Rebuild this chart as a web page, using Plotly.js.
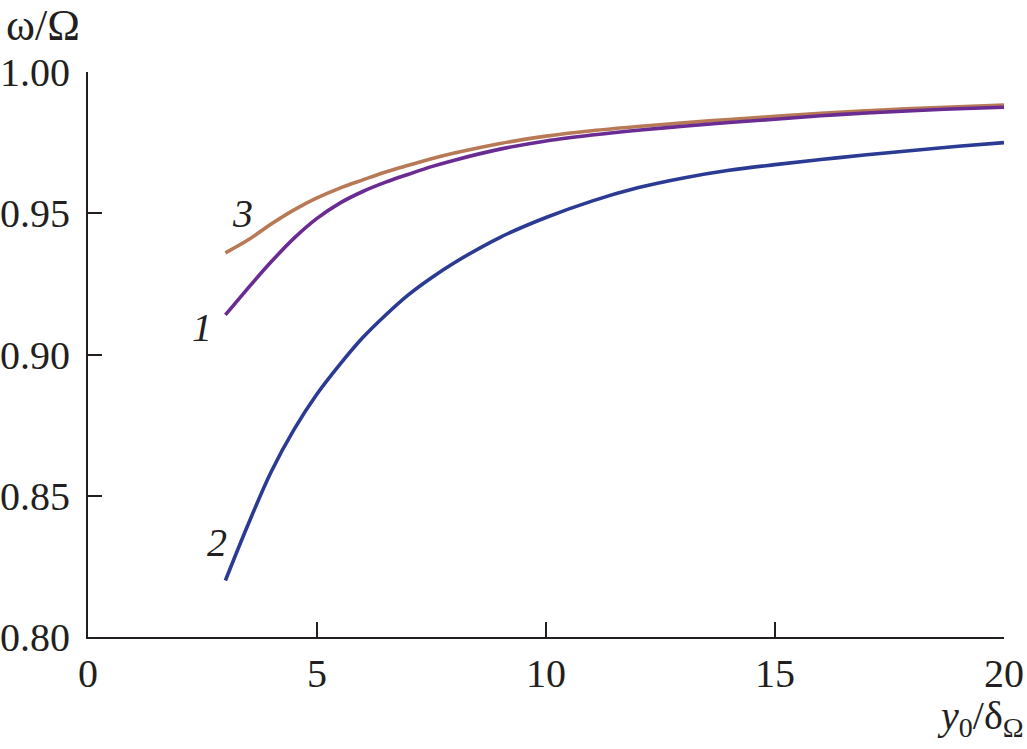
<!DOCTYPE html>
<html>
<head>
<meta charset="utf-8">
<script src="https://cdn.plot.ly/plotly-3.0.1.min.js"></script>
<style>html,body{margin:0;padding:0;background:#fff;}#chart{width:1027px;height:749px;}</style>
</head>
<body>
<div id="chart"></div>
<script>
const xVals = [3, 3.5, 4, 4.5, 5, 5.5, 6, 6.5, 7, 7.5, 8, 9, 10, 11, 12, 13, 14, 15, 16, 17, 18, 19, 20];
const curve1 = [0.9140, 0.9236, 0.9328, 0.9412, 0.9482, 0.9536, 0.9577, 0.9610, 0.9638, 0.9665, 0.9688, 0.9727, 0.9756, 0.9777, 0.9794, 0.9808, 0.9821, 0.9833, 0.9845, 0.9855, 0.9863, 0.9870, 0.9875];
const curve2 = [0.8200, 0.8400, 0.8585, 0.8735, 0.8860, 0.8965, 0.9060, 0.9140, 0.9212, 0.9272, 0.9325, 0.9415, 0.9485, 0.9543, 0.9590, 0.9625, 0.9652, 0.9672, 0.9690, 0.9707, 0.9722, 0.9737, 0.9750];
const curve3 = [0.9360, 0.9406, 0.9462, 0.9512, 0.9554, 0.9589, 0.9618, 0.9646, 0.9670, 0.9693, 0.9713, 0.9747, 0.9773, 0.9792, 0.9807, 0.9820, 0.9832, 0.9843, 0.9854, 0.9863, 0.9871, 0.9877, 0.9883];
const xTicks = [0, 5, 10, 15, 20];
const yTicks = [0.80, 0.85, 0.90, 0.95, 1.00];
const curveLabels = ["1", "2", "3"];
const labelPos = [[2.48, 0.9095], [2.82, 0.8333], [3.38, 0.950]];

const ink = '#231F20';
const serif = 'Liberation Serif, Times New Roman, serif';

const traces = [
  {x: xVals, y: curve2, mode: 'lines', line: {color: '#2B3A93', width: 3.6, shape: 'spline', smoothing: 1}, hoverinfo: 'skip'},
  {x: xVals, y: curve3, mode: 'lines', line: {color: '#B77956', width: 3.6, shape: 'spline', smoothing: 1}, hoverinfo: 'skip'},
  {x: xVals, y: curve1, mode: 'lines', line: {color: '#6A2B93', width: 3.6, shape: 'spline', smoothing: 1}, hoverinfo: 'skip'}
];

const annotations = curveLabels.map((t, i) => ({
  text: '<i>' + t + '</i>', x: labelPos[i][0], y: labelPos[i][1], xref: 'x', yref: 'y',
  showarrow: false, font: {family: serif, size: 40, color: ink}
}));
annotations.push({text: 'ω/Ω', xref: 'paper', yref: 'paper', x: -0.092, y: 1.083, xanchor: 'left', yanchor: 'middle',
  showarrow: false, font: {family: serif, size: 44, color: ink}});
annotations.push({text: '<i>y</i><sub>0</sub>/δ<sub>Ω</sub>', xref: 'paper', yref: 'paper', x: 1.024, y: -0.143, xanchor: 'right', yanchor: 'middle',
  showarrow: false, font: {family: serif, size: 40, color: ink}});

const layout = {
  width: 1027, height: 749,
  margin: {l: 88, r: 23, t: 72, b: 112},
  paper_bgcolor: '#fff', plot_bgcolor: '#fff',
  showlegend: false,
  font: {family: serif, size: 40, color: ink},
  xaxis: {
    range: [0, 20], tickvals: xTicks, ticktext: xTicks.map(String),
    ticks: 'inside', ticklen: 15, tickwidth: 2, tickcolor: ink,
    showline: true, linewidth: 2, linecolor: ink, showgrid: false, zeroline: false,
    tickfont: {family: serif, size: 40, color: ink}, fixedrange: true
  },
  yaxis: {
    range: [0.8, 1.0], tickvals: yTicks, ticktext: yTicks.map(v => v.toFixed(2)),
    ticks: 'inside', ticklen: 14, tickwidth: 2, tickcolor: ink,
    showline: true, linewidth: 2, linecolor: ink, showgrid: false, zeroline: false,
    tickfont: {family: serif, size: 40, color: ink}, ticklabelstandoff: 8, fixedrange: true
  },
  annotations: annotations
};

Plotly.newPlot('chart', traces, layout, {staticPlot: true, displayModeBar: false});
</script>
</body>
</html>
